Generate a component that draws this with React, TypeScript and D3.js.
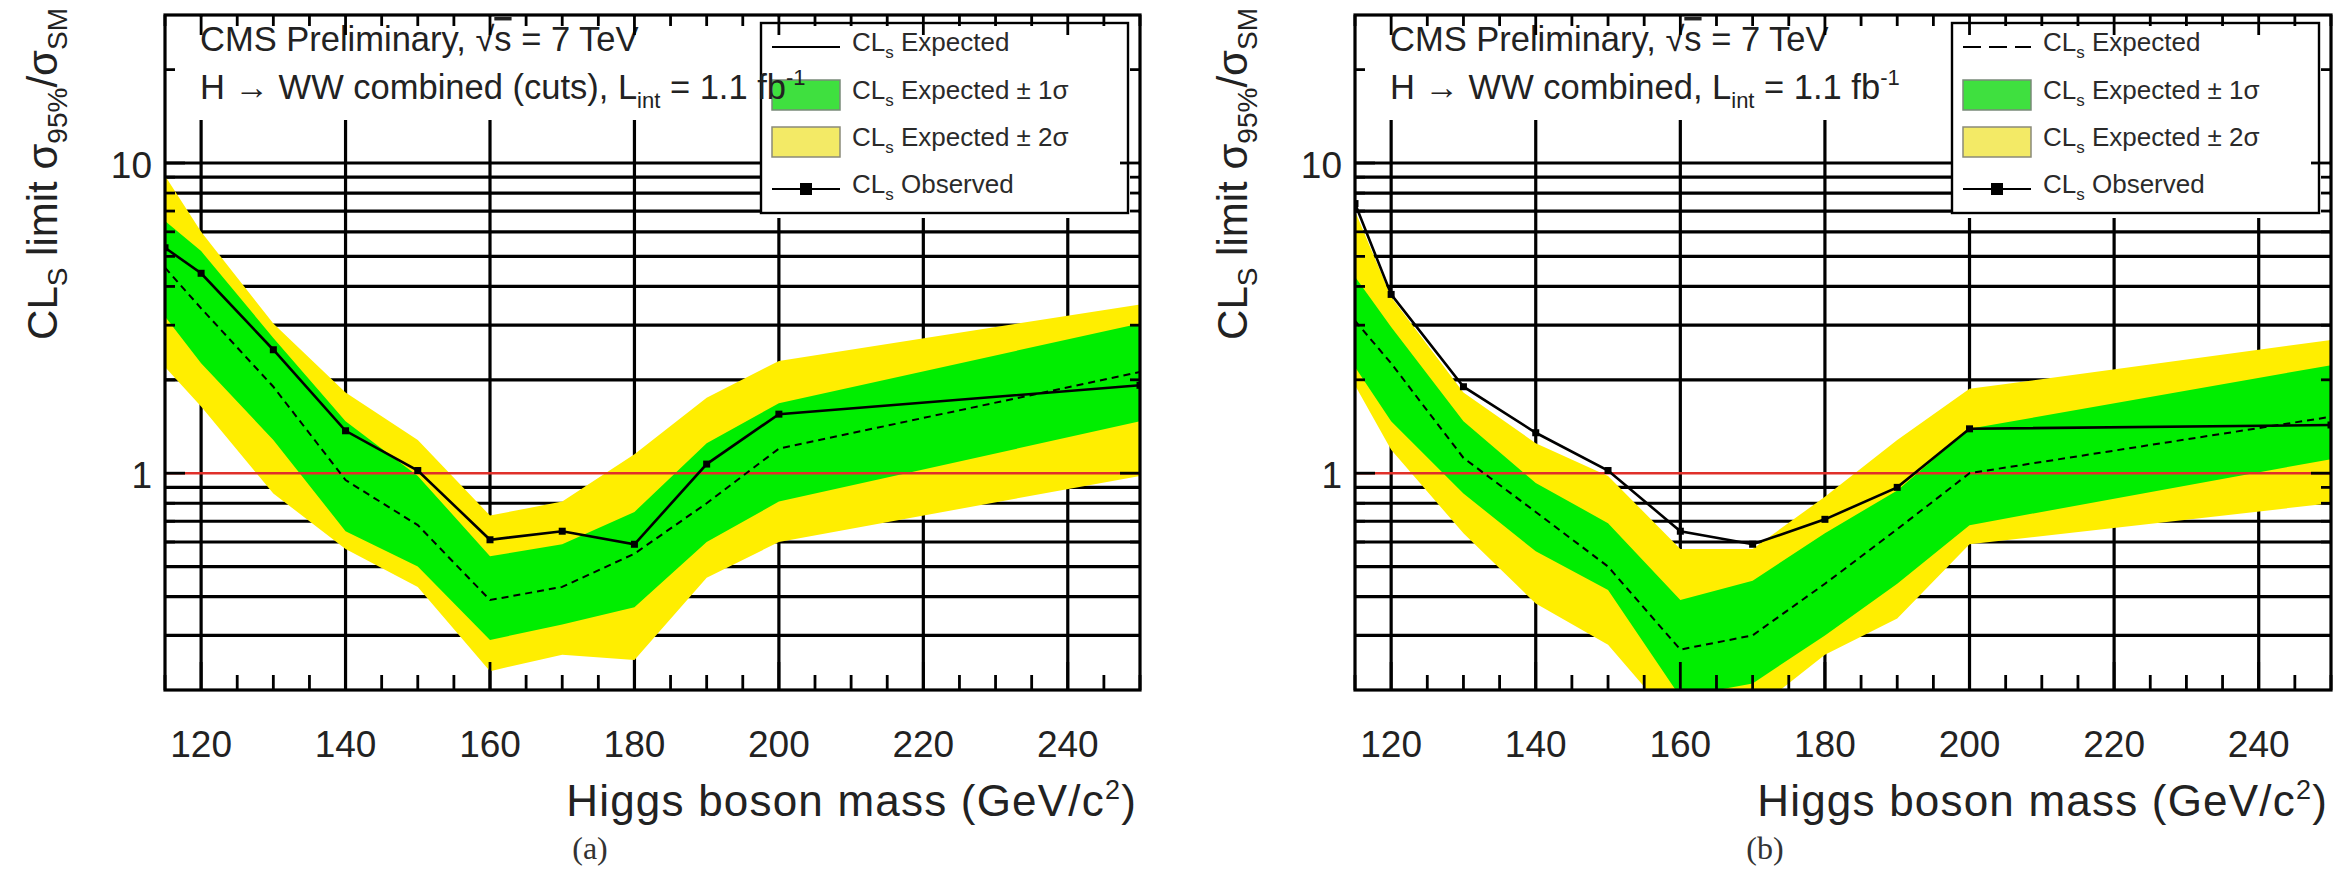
import React from 'react';
import * as d3 from 'd3';

// Higgs mass points (GeV/c^2)
const MASS = [115, 120, 130, 140, 150, 160, 170, 180, 190, 200, 250];

// Panel (a): H -> WW combined (cuts)
const A_OBS = [5.33, 4.41, 2.5, 1.37, 1.02, 0.61, 0.65, 0.59, 1.07, 1.55, 1.92];
const A_EXP = [4.6, 3.4, 1.9, 0.95, 0.68, 0.39, 0.43, 0.55, 0.8, 1.2, 2.12];
const A_P1 = [6.5, 5.2, 2.73, 1.47, 0.98, 0.54, 0.59, 0.75, 1.25, 1.68, 3.04];
const A_M1 = [3.2, 2.26, 1.28, 0.65, 0.5, 0.29, 0.325, 0.37, 0.6, 0.81, 1.47];
const A_P2 = [9.1, 6.0, 3.04, 1.82, 1.28, 0.73, 0.81, 1.15, 1.75, 2.3, 3.5];
const A_M2 = [2.2, 1.64, 0.86, 0.57, 0.43, 0.23, 0.26, 0.25, 0.46, 0.6, 0.98];

// Panel (b): H -> WW combined
const B_OBS = [7.4, 3.77, 1.9, 1.35, 1.02, 0.65, 0.59, 0.71, 0.9, 1.39, 1.43];
const B_EXP = [3.1, 2.26, 1.12, 0.75, 0.5, 0.27, 0.3, 0.44, 0.66, 1.0, 1.52];
const B_P1 = [4.3, 2.96, 1.47, 0.93, 0.69, 0.39, 0.45, 0.64, 0.88, 1.39, 2.23];
const B_M1 = [2.2, 1.47, 0.86, 0.56, 0.42, 0.19, 0.21, 0.3, 0.44, 0.68, 1.11];
const B_P2 = [7.0, 3.7, 1.82, 1.25, 0.98, 0.57, 0.57, 0.84, 1.28, 1.87, 2.69];
const B_M2 = [1.92, 1.19, 0.64, 0.38, 0.28, 0.15, 0.17, 0.26, 0.34, 0.59, 0.8];

const X_DOMAIN = [115, 250];
const Y_DOMAIN = [0.2, 30];
const X_MAJOR = [120, 140, 160, 180, 200, 220, 240];
const X_MINOR = d3.range(115, 251, 5);
const Y_GRID = [0.3, 0.4, 0.5, 0.6, 0.7, 0.8, 0.9, 2, 3, 4, 5, 6, 7, 8, 9, 10];
const Y_MINOR_TICKS = [0.3, 0.4, 0.5, 0.6, 0.7, 0.8, 0.9, 2, 3, 4, 5, 6, 7, 8, 9, 20];
const Y_MAJOR_TICKS = [1, 10];
const Y_LABELS = [1, 10];

const FONT = 'Liberation Sans, Arial, Helvetica, sans-serif';
const GREEN = '#00ee00';
const YELLOW = '#ffee00';

type PanelProps = {
  id: string;
  x0: number;
  x1: number;
  obs: number[];
  exp: number[];
  p1: number[];
  m1: number[];
  p2: number[];
  m2: number[];
  line2Main: string;
  dashedLegend: boolean;
  caption: string;
  captionX: number;
};

function Panel(props: PanelProps) {
  const { id, x0, x1, obs, exp, p1, m1, p2, m2, line2Main, dashedLegend, caption, captionX } = props;
  const y0 = 15;
  const y1 = 690;
  const x = d3.scaleLinear().domain(X_DOMAIN).range([x0, x1]);
  const y = d3.scaleLog().domain(Y_DOMAIN).range([y1, y0]);
  const idx = MASS.map((_, i) => i);

  const band = (lo: number[], hi: number[]) =>
    d3
      .area<number>()
      .x((i) => x(MASS[i]))
      .y0((i) => y(lo[i]))
      .y1((i) => y(hi[i]))(idx) || '';
  const line = (v: number[]) =>
    d3
      .line<number>()
      .x((i) => x(MASS[i]))
      .y((i) => y(v[i]))(idx) || '';

  const lx = x1 - 379;
  const lw = 367;
  const ly = 23;
  const lh = 190;
  const rows = [47, 95, 142, 189];
  const sx0 = lx + 11;
  const sx1 = lx + 79;
  const tx = lx + 91;

  const legendText = (label: string, yy: number) => (
    <text x={tx} y={yy + 4} fontSize={26} fill="#2a2a2a" fontFamily={FONT}>
      CL<tspan dy={7} fontSize={17}>s</tspan>
      <tspan dy={-7}>{label}</tspan>
    </text>
  );

  return (
    <g>
      <defs>
        <clipPath id={`clip-${id}`}>
          <rect x={x0} y={y0} width={x1 - x0} height={y1 - y0} />
        </clipPath>
      </defs>
      {/* grid */}
      <g stroke="#000" strokeWidth={3.2}>
        {Y_GRID.map((v) => (
          <line key={`hg${v}`} x1={x0} x2={x1} y1={y(v)} y2={y(v)} />
        ))}
        {X_MAJOR.map((v) => (
          <line key={`vg${v}`} x1={x(v)} x2={x(v)} y1={y0} y2={y1} />
        ))}
      </g>
      {/* white panes behind text and legend */}
      <rect x={x0 + 1.5} y={y0 + 1.5} width={lx - x0 - 1.5} height={120 - y0 - 1.5} fill="#fff" />
      <rect x={lx} y={y0 + 1.5} width={x1 - lx - 1.5} height={218 - y0 - 1.5} fill="#fff" />
      {/* bands and lines */}
      <g clipPath={`url(#clip-${id})`}>
        <path d={band(m2, p2)} fill={YELLOW} />
        <path d={band(m1, p1)} fill={GREEN} />
        <line x1={x0} x2={x1} y1={y(1)} y2={y(1)} stroke="#e0302a" strokeWidth={2.4} />
        <path d={line(exp)} fill="none" stroke="#000" strokeWidth={2} strokeDasharray="7,5" />
        <path d={line(obs)} fill="none" stroke="#000" strokeWidth={2.6} />
        {idx.map((i) => (
          <rect key={`m${i}`} x={x(MASS[i]) - 3.5} y={y(obs[i]) - 3.5} width={7} height={7} fill="#000" />
        ))}
      </g>
      {/* legend */}
      <rect x={lx} y={ly} width={lw} height={lh} fill="none" stroke="#000" strokeWidth={2.4} />
      <line
        x1={sx0}
        x2={sx1}
        y1={rows[0]}
        y2={rows[0]}
        stroke="#000"
        strokeWidth={2.2}
        strokeDasharray={dashedLegend ? '18,8' : undefined}
      />
      {legendText(' Expected', rows[0])}
      <rect x={sx0} y={rows[1] - 15} width={sx1 - sx0} height={30} fill="#3fe03f" stroke="#7a8a7a" strokeWidth={1.5} />
      {legendText(' Expected ± 1σ', rows[1])}
      <rect x={sx0} y={rows[2] - 15} width={sx1 - sx0} height={30} fill="#f3ea66" stroke="#8a8a7a" strokeWidth={1.5} />
      {legendText(' Expected ± 2σ', rows[2])}
      <line x1={sx0} x2={sx1} y1={rows[3]} y2={rows[3]} stroke="#000" strokeWidth={2.2} />
      <rect x={(sx0 + sx1) / 2 - 6} y={rows[3] - 6} width={12} height={12} fill="#000" />
      {legendText(' Observed', rows[3])}
      {/* header text */}
      <text x={x0 + 35} y={51} fontSize={34.5} fill="#222" fontFamily={FONT}>
        CMS Preliminary, √<tspan style={{ textDecoration: 'overline' }}>s</tspan> = 7 TeV
      </text>
      <text x={x0 + 35} y={99} fontSize={34.5} fill="#222" fontFamily={FONT}>
        {line2Main}
        <tspan dy={9} fontSize={22}>int</tspan>
        <tspan dy={-9}> = 1.1 fb</tspan>
        <tspan dy={-14} fontSize={22}>-1</tspan>
      </text>
      {/* frame */}
      <rect x={x0} y={y0} width={x1 - x0} height={y1 - y0} fill="none" stroke="#000" strokeWidth={3.2} />
      {/* ticks */}
      <g stroke="#000" strokeWidth={2.8}>
        {X_MINOR.map((v) => (
          <g key={`xt${v}`}>
            <line x1={x(v)} x2={x(v)} y1={y1} y2={y1 - (v % 20 === 0 ? 28 : 15)} />
            <line x1={x(v)} x2={x(v)} y1={y0} y2={y0 + (v % 20 === 0 ? 20 : 11)} />
          </g>
        ))}
        {Y_MINOR_TICKS.map((v) => (
          <g key={`yt${v}`}>
            <line x1={x0} x2={x0 + 10} y1={y(v)} y2={y(v)} />
            <line x1={x1} x2={x1 - 10} y1={y(v)} y2={y(v)} />
          </g>
        ))}
        {Y_MAJOR_TICKS.map((v) => (
          <g key={`yM${v}`}>
            <line x1={x0} x2={x0 + 20} y1={y(v)} y2={y(v)} />
            <line x1={x1} x2={x1 - 20} y1={y(v)} y2={y(v)} />
          </g>
        ))}
      </g>
      {/* axis labels */}
      {X_MAJOR.map((v) => (
        <text key={`xl${v}`} x={x(v)} y={757} fontSize={37} textAnchor="middle" fill="#222" fontFamily={FONT}>
          {v}
        </text>
      ))}
      {Y_LABELS.map((v) => (
        <text key={`yl${v}`} x={x0 - 13} y={y(v) + 15} fontSize={37} textAnchor="end" fill="#222" fontFamily={FONT}>
          {v}
        </text>
      ))}
      <text
        x={x1 - 3}
        y={816}
        fontSize={44}
        textAnchor="end"
        fill="#222"
        fontFamily={FONT}
        letterSpacing={1.2}
      >
        Higgs boson mass (GeV/c<tspan dy={-17} fontSize={27}>2</tspan>
        <tspan dy={17}>)</tspan>
      </text>
      <text
        transform={`translate(${x0 - 108},8) rotate(-90)`}
        fontSize={42}
        textAnchor="end"
        fill="#222"
        fontFamily={FONT}
      >
        CL<tspan dy={10} fontSize={28}>S</tspan>
        <tspan dy={-10}> limit σ</tspan>
        <tspan dy={10} fontSize={28}>95%</tspan>
        <tspan dy={-10}>/σ</tspan>
        <tspan dy={10} fontSize={28}>SM</tspan>
      </text>
      <text x={captionX} y={859} fontSize={32} textAnchor="middle" fill="#333" fontFamily="Liberation Serif, Times New Roman, serif">
        {caption}
      </text>
    </g>
  );
}

export default function App() {
  return (
    <svg
      width={2347}
      height={869}
      viewBox="0 0 2347 869"
      style={{ position: 'absolute', left: 0, top: 0, background: '#fff' }}
    >
      <rect x={0} y={0} width={2347} height={869} fill="#fff" />
      <Panel
        id="a"
        x0={165}
        x1={1140}
        obs={A_OBS}
        exp={A_EXP}
        p1={A_P1}
        m1={A_M1}
        p2={A_P2}
        m2={A_M2}
        line2Main="H → WW combined (cuts), L"
        dashedLegend={false}
        caption="(a)"
        captionX={590}
      />
      <Panel
        id="b"
        x0={1355}
        x1={2331}
        obs={B_OBS}
        exp={B_EXP}
        p1={B_P1}
        m1={B_M1}
        p2={B_P2}
        m2={B_M2}
        line2Main="H → WW combined, L"
        dashedLegend={true}
        caption="(b)"
        captionX={1765}
      />
    </svg>
  );
}
